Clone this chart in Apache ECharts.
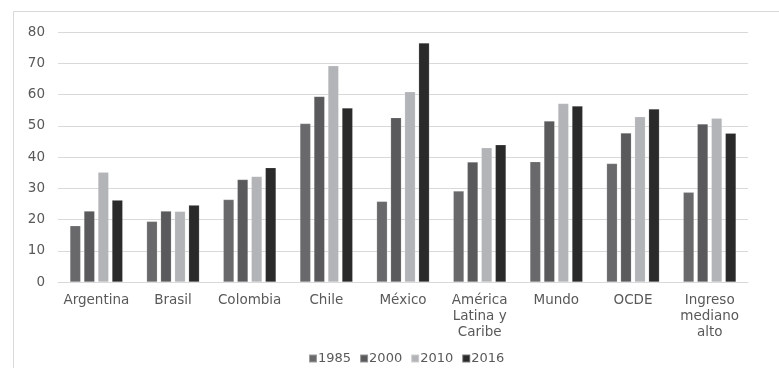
<!DOCTYPE html>
<html>
<head>
<meta charset="utf-8">
<script src="https://cdn.jsdelivr.net/npm/echarts@6/dist/echarts.min.js"></script>
<style>html,body{margin:0;padding:0;background:#fff}#c{width:779px;height:368px}</style>
</head>
<body>
<div id="c"></div>
<script>
const categories = ['Argentina', 'Brasil', 'Colombia', 'Chile', 'México', 'América\nLatina y\nCaribe', 'Mundo', 'OCDE', 'Ingreso\nmediano\nalto'];
const seriesNames = ['1985', '2000', '2010', '2016'];
const v1985 = [18.0, 19.4, 26.4, 50.7, 25.8, 29.1, 38.5, 37.9, 28.7];
const v2000 = [22.7, 22.7, 32.8, 59.4, 52.6, 38.4, 51.5, 47.7, 50.6];
const v2010 = [35.1, 22.6, 33.8, 69.2, 60.9, 43.0, 57.1, 52.9, 52.4];
const v2016 = [26.2, 24.6, 36.6, 55.7, 76.5, 43.9, 56.3, 55.4, 47.6];
const colors = ['#69696c', '#5a5a5c', '#b3b4b7', '#2b2a2b'];
const values = [v1985, v2000, v2010, v2016];

const font = 'DejaVu Sans';
const chart = echarts.init(document.getElementById('c'), null, {renderer: 'canvas'});
chart.setOption({
  animation: false,
  color: colors,
  textStyle: {fontFamily: font},
  graphic: [{
    type: 'rect', left: 11, top: 9, silent: true,
    shape: {x: 0.5, y: 0.5, width: 800, height: 400},
    style: {fill: 'none', stroke: '#d9d9d9', lineWidth: 1}
  }],
  grid: {left: 58, right: 31, top: 32, bottom: 86, containLabel: false},
  legend: {
    top: 347, left: 303,
    data: seriesNames,
    icon: 'rect', itemWidth: 8, itemHeight: 8, itemGap: 8,
    textStyle: {fontFamily: font, fontSize: 13, color: '#595959', padding: [0, 0, 0, -4]}
  },
  xAxis: {
    type: 'category', data: categories,
    axisLine: {lineStyle: {color: '#d9d9d9', width: 1}},
    axisTick: {show: false},
    axisLabel: {fontFamily: font, fontSize: 13.5, color: '#595959', margin: 10, lineHeight: 16, interval: 0}
  },
  yAxis: {
    type: 'value', min: 0, max: 80, interval: 10,
    axisLine: {show: false}, axisTick: {show: false},
    axisLabel: {fontFamily: font, fontSize: 13.5, color: '#595959', margin: 13},
    splitLine: {lineStyle: {color: '#d9d9d9', width: 1}}
  },
  series: seriesNames.map((n, i) => ({
    name: n, type: 'bar', data: values[i],
    barWidth: 10.7, barGap: '31%',
    itemStyle: {color: colors[i], borderColor: 'rgba(255,255,255,0.35)', borderWidth: 0.5}
  }))
});
</script>
</body>
</html>
